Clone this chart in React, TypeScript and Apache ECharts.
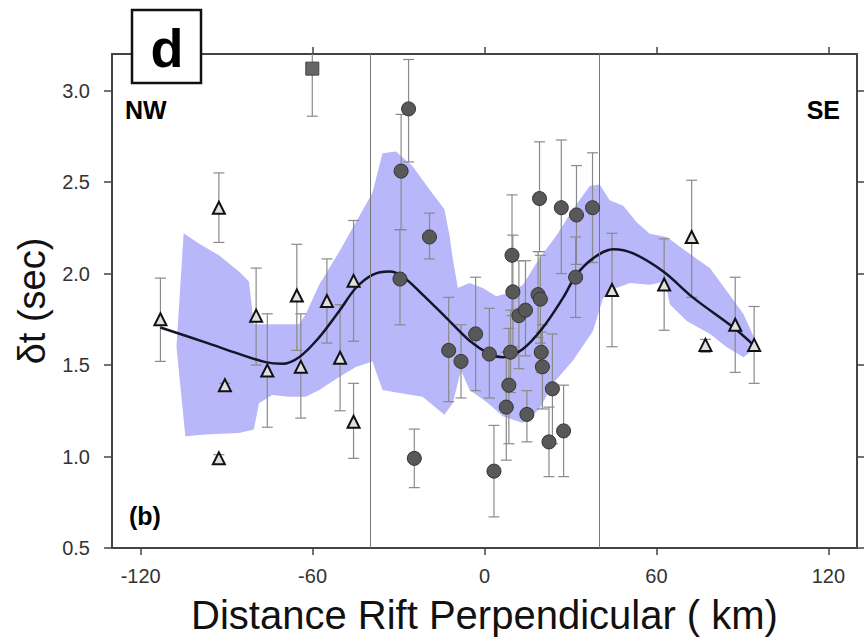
import React, { useEffect, useRef } from "react";
import * as echarts from "echarts";

// ---- axis ticks ----
const xTicks = [-120, -60, 0, 60, 120];
const yTicks = [0.5, 1.0, 1.5, 2.0, 2.5, 3.0];
const boundaryLines = [-40, 40];

// ---- triangles: [x, y, low, high] ----
const triangles = [
  [-113.1, 1.75, 1.52, 1.975],
  [-92.7, 2.36, 2.17, 2.55],
  [-90.6, 1.39, 1.37, 1.4],
  [-92.7, 0.99, 0.97, 1.01],
  [-79.7, 1.77, 1.5, 2.03],
  [-75.8, 1.47, 1.16, 1.78],
  [-65.5, 1.88, 1.58, 2.16],
  [-64.1, 1.49, 1.21, 1.78],
  [-55.0, 1.85, 1.62, 2.08],
  [-50.4, 1.54, 1.25, 1.83],
  [-45.7, 1.96, 1.63, 2.29],
  [-45.7, 1.19, 0.99, 1.4],
  [44.5, 1.91, 1.6, 2.22],
  [62.7, 1.94, 1.69, 2.19],
  [72.3, 2.2, 1.87, 2.51],
  [77.1, 1.61, 1.57, 1.64],
  [87.5, 1.72, 1.46, 1.98],
  [94.1, 1.61, 1.4, 1.82],
];

// ---- circles: [x, y, low, high] ----
const circles = [
  [-26.5, 2.9, 2.61, 3.17],
  [-29.1, 2.56, 2.24, 2.87],
  [-29.5, 1.97, 1.72, 2.24],
  [-19.2, 2.2, 2.08, 2.33],
  [-24.5, 0.99, 0.83, 1.15],
  [-12.5, 1.58, 1.3, 1.87],
  [-8.2, 1.52, 1.32, 1.72],
  [-3.1, 1.67, 1.36, 1.98],
  [1.7, 1.56, 1.32, 1.81],
  [3.3, 0.92, 0.67, 1.17],
  [19.2, 2.41, 2.12, 2.72],
  [26.8, 2.36, 2.0, 2.73],
  [32.1, 2.32, 2.05, 2.59],
  [37.7, 2.36, 2.06, 2.66],
  [31.8, 1.98, 1.76, 2.2],
  [9.6, 2.1, 1.77, 2.43],
  [9.9, 1.9, 1.6, 2.21],
  [12.0, 1.77, 1.48, 2.07],
  [14.3, 1.8, 1.55, 2.07],
  [18.7, 1.885, 1.65, 2.12],
  [19.5, 1.86, 1.62, 2.1],
  [19.8, 1.57, 1.46, 1.68],
  [20.2, 1.49, 1.26, 1.72],
  [9.1, 1.57, 1.35, 1.8],
  [8.5, 1.39, 1.07, 1.7],
  [7.6, 1.27, 0.98, 1.57],
  [14.8, 1.23, 1.08, 1.36],
  [23.7, 1.37, 1.07, 1.67],
  [22.5, 1.08, 0.89, 1.27],
  [27.6, 1.14, 0.89, 1.39],
];

// ---- square: [x, y, low, high] ----
const squares = [[-60.1, 3.12, 2.86, 3.38]];

// ---- smooth fitted curve ----
const curve = [
  [-113.1, 1.705], [-97.4, 1.624], [-85.7, 1.561], [-76.4, 1.516], [-70.6, 1.507],
  [-64.7, 1.543], [-57.7, 1.651], [-50.7, 1.795], [-44.9, 1.921], [-39.1, 1.993],
  [-33.2, 2.011], [-28.6, 1.984], [-21.6, 1.885], [-13.4, 1.759], [-5.2, 1.633],
  [1.7, 1.561], [6.4, 1.543], [13.4, 1.588], [20.4, 1.705], [27.4, 1.867],
  [32.1, 1.993], [37.9, 2.083], [44.9, 2.133], [51.9, 2.11], [62.4, 2.011],
  [72.9, 1.867], [86.9, 1.705], [94.1, 1.606],
];

// ---- uncertainty band ----
const bandUpper = [
  [-105, 2.22], [-99.7, 2.164], [-92.7, 2.1], [-85.7, 2.011], [-82.2, 1.957],
  [-80.5, 1.723], [-74.1, 1.723], [-64.7, 1.723], [-62.4, 1.777], [-57.7, 1.939],
  [-50.7, 2.119], [-44.9, 2.28], [-39.1, 2.442], [-35.6, 2.658], [-30.9, 2.667],
  [-25.1, 2.586], [-19.2, 2.46], [-14.0, 2.352], [-12.2, 2.208], [-11.1, 2.083],
  [-9.3, 1.921], [-5.2, 1.948], [-0.6, 1.921], [4.1, 1.876], [8.7, 1.895],
  [13.4, 1.939], [19.2, 2.083], [25.1, 2.208], [30.9, 2.352], [36.7, 2.478],
  [40.2, 2.487], [43.7, 2.4], [48.4, 2.37], [53.1, 2.28], [57.7, 2.217],
  [63.6, 2.2], [70.6, 2.119], [78.7, 2.029], [84.6, 1.903], [90.4, 1.777],
  [95.1, 1.615],
];
const bandLower = [
  [-107.5, 1.6], [-104.4, 1.111], [-97.4, 1.12], [-85.7, 1.129], [-80.5, 1.147],
  [-78.7, 1.291], [-74.1, 1.336], [-68.2, 1.327], [-62.4, 1.327], [-57.7, 1.363],
  [-50.7, 1.435], [-44.9, 1.489], [-39.1, 1.52], [-35.6, 1.363], [-28.6, 1.345],
  [-21.6, 1.327], [-14.0, 1.228], [-11.1, 1.291], [-8.2, 1.471], [-5.2, 1.363],
  [0.6, 1.3], [6.4, 1.22], [13.4, 1.183], [19.2, 1.26], [23.9, 1.399],
  [30.9, 1.525], [37.9, 1.687], [41.4, 1.867], [46.1, 1.921], [50.7, 1.948],
  [57.7, 1.939], [63.0, 1.957], [64.7, 1.831], [70.6, 1.741], [78.7, 1.669],
  [84.6, 1.597], [90.4, 1.543], [95.1, 1.6],
];

const FONT = "'Liberation Sans', Arial, Helvetica, sans-serif";
const FRAME = "#444";

function errorBarSeries(name: string, rows: number[][]) {
  return {
    name,
    type: "custom",
    clip: true,
    silent: true,
    z: 3,
    encode: { x: 0, y: [1, 2] },
    data: rows.map((r) => [r[0], r[2], r[3]]),
    renderItem: (params: any, api: any) => {
      const x = api.value(0);
      const lo = api.coord([x, api.value(1)]);
      const hi = api.coord([x, api.value(2)]);
      const w = 5.5;
      const style = { stroke: "#8a8a8a", lineWidth: 1.2 };
      return {
        type: "group",
        children: [
          { type: "line", shape: { x1: lo[0], y1: lo[1], x2: hi[0], y2: hi[1] }, style },
          { type: "line", shape: { x1: lo[0] - w, y1: lo[1], x2: lo[0] + w, y2: lo[1] }, style },
          { type: "line", shape: { x1: hi[0] - w, y1: hi[1], x2: hi[0] + w, y2: hi[1] }, style },
        ],
      };
    },
  };
}

export default function App() {
  const ref = useRef<HTMLDivElement>(null);

  useEffect(() => {
    if (!ref.current) return;
    const chart = echarts.init(ref.current, null, { renderer: "svg" });

    const axisLineStyle = { color: FRAME, width: 2 };
    const tickStyle = { color: FRAME, width: 1.5 };

    const option: any = {
      animation: false,
      backgroundColor: "#fff",
      textStyle: { fontFamily: FONT },
      grid: { left: 112, right: 7, top: 54, bottom: 91, containLabel: false },
      xAxis: [
        {
          type: "value",
          min: -130,
          max: 130,
          position: "bottom",
          axisLine: { show: true, onZero: false, lineStyle: axisLineStyle },
          axisTick: { show: true, customValues: xTicks, length: 7, lineStyle: tickStyle },
          axisLabel: { customValues: xTicks, fontSize: 20, color: "#333", margin: 18, fontFamily: FONT },
          splitLine: { show: false },
          name: "Distance Rift Perpendicular ( km)",
          nameLocation: "middle",
          nameGap: 47,
          nameTextStyle: { fontSize: 40, color: "#111", fontFamily: FONT },
        },
        {
          type: "value",
          min: -130,
          max: 130,
          position: "top",
          axisLine: { show: true, onZero: false, lineStyle: axisLineStyle },
          axisTick: { show: true, customValues: xTicks, length: 7, lineStyle: tickStyle },
          axisLabel: { show: false },
          splitLine: { show: false },
        },
      ],
      yAxis: [
        {
          type: "value",
          min: 0.5,
          max: 3.2,
          position: "left",
          axisLine: { show: true, onZero: false, lineStyle: axisLineStyle },
          axisTick: { show: true, customValues: yTicks, length: 8, lineStyle: tickStyle },
          axisLabel: {
            customValues: yTicks,
            fontSize: 20,
            color: "#333",
            margin: 22,
            fontFamily: FONT,
            formatter: (v: number) => v.toFixed(1),
          },
          splitLine: { show: false },
          name: "δt (sec)",
          nameLocation: "middle",
          nameGap: 61,
          nameTextStyle: { fontSize: 38, color: "#111", fontFamily: FONT },
        },
        {
          type: "value",
          min: 0.5,
          max: 3.2,
          position: "right",
          axisLine: { show: true, onZero: false, lineStyle: axisLineStyle },
          axisTick: { show: true, customValues: yTicks, length: 8, lineStyle: tickStyle },
          axisLabel: { show: false },
          splitLine: { show: false },
        },
      ],
      series: [
        {
          name: "band",
          type: "custom",
          clip: true,
          silent: true,
          z: 1,
          data: [[0, 1]],
          renderItem: (params: any, api: any) => {
            const pts = bandUpper
              .concat(bandLower.slice().reverse())
              .map((p) => api.coord(p));
            return {
              type: "polygon",
              shape: { points: pts },
              style: { fill: "#b7b7f9", stroke: "none" },
            };
          },
        },
        errorBarSeries("tri-err", triangles),
        errorBarSeries("circ-err", circles),
        errorBarSeries("sq-err", squares),
        {
          name: "fit",
          type: "line",
          z: 4,
          smooth: 0.35,
          symbol: "none",
          silent: true,
          lineStyle: { color: "#15152a", width: 2.5 },
          data: curve,
          markLine: {
            silent: true,
            symbol: ["none", "none"],
            label: { show: false },
            lineStyle: { color: "#777", width: 1, type: "solid" },
            data: boundaryLines.map((v) => ({ xAxis: v })),
          },
        },
        {
          name: "triangles",
          type: "scatter",
          z: 5,
          symbol: "triangle",
          symbolSize: 12,
          itemStyle: { color: "#e0e0e0", borderColor: "#111", borderWidth: 2, opacity: 1 },
          data: triangles.map((r) => [r[0], r[1]]),
        },
        {
          name: "circles",
          type: "scatter",
          z: 5,
          symbol: "circle",
          symbolSize: 14,
          itemStyle: { color: "#585858", borderColor: "#333", borderWidth: 1, opacity: 1 },
          data: circles.map((r) => [r[0], r[1]]),
        },
        {
          name: "squares",
          type: "scatter",
          z: 5,
          symbol: "rect",
          symbolSize: 13,
          itemStyle: { color: "#666", borderColor: "#444", borderWidth: 1, opacity: 1 },
          data: squares.map((r) => [r[0], r[1]]),
        },
      ],
      graphic: [
        {
          type: "rect",
          z: 100,
          shape: { x: 132, y: 10, width: 69, height: 73 },
          style: { fill: "#fff", stroke: "#111", lineWidth: 2.5 },
        },
        {
          type: "text",
          z: 101,
          x: 167,
          y: 48,
          style: {
            text: "d",
            fontSize: 54,
            fontWeight: "bold",
            fontFamily: FONT,
            fill: "#000",
            textAlign: "center",
            textVerticalAlign: "middle",
          },
        },
        {
          type: "text",
          z: 101,
          x: 125,
          y: 110,
          style: {
            text: "NW",
            fontSize: 25,
            fontWeight: "bold",
            fontFamily: FONT,
            fill: "#000",
            textAlign: "left",
            textVerticalAlign: "middle",
          },
        },
        {
          type: "text",
          z: 101,
          x: 840,
          y: 110,
          style: {
            text: "SE",
            fontSize: 25,
            fontWeight: "bold",
            fontFamily: FONT,
            fill: "#000",
            textAlign: "right",
            textVerticalAlign: "middle",
          },
        },
        {
          type: "text",
          z: 101,
          x: 129,
          y: 516,
          style: {
            text: "(b)",
            fontSize: 25,
            fontWeight: "bold",
            fontFamily: FONT,
            fill: "#000",
            textAlign: "left",
            textVerticalAlign: "middle",
          },
        },
      ],
    };

    chart.setOption(option);
    return () => chart.dispose();
  }, []);

  return (
    <div
      ref={ref}
      style={{ position: "fixed", left: 0, top: 0, width: 864, height: 640, background: "#fff" }}
    />
  );
}
